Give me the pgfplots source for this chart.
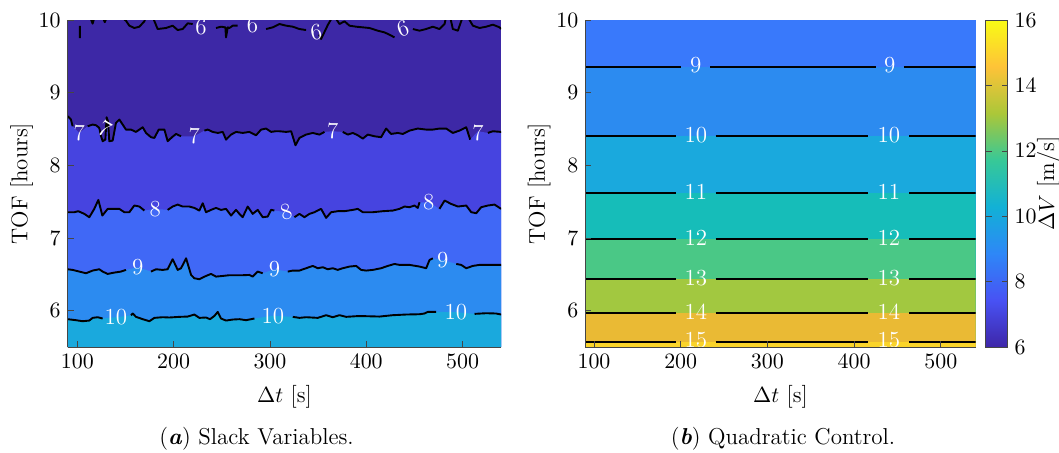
\documentclass[border=0pt]{standalone}
\usepackage{pgfplots}
\pgfplotsset{compat=1.18}
\usepackage{pgfplotstable}

\definecolor{cA}{RGB}{61,40,166}
\definecolor{cB}{RGB}{70,68,224}
\definecolor{cC}{RGB}{64,104,246}
\definecolor{cD}{RGB}{44,139,240}
\definecolor{cE}{RGB}{26,169,221}
\definecolor{cF}{RGB}{22,189,185}
\definecolor{cG}{RGB}{74,200,134}
\definecolor{cH}{RGB}{162,200,64}
\definecolor{cI}{RGB}{234,186,52}
\definecolor{cJ}{RGB}{250,212,42}
\definecolor{cR}{RGB}{57,121,251}
\definecolor{axgray}{RGB}{70,70,70}

\pgfplotstableread{
x y l
90 8.675 8.675
93.4 8.630 8.630
95.1 8.538 8.538
102.1 8.446 nan
110.7 8.538 8.538
115.9 8.561 8.561
119.4 8.552 8.552
122.8 8.515 8.515
124.6 8.400 8.400
126.3 8.332 8.332
129.1 8.354 8.354
130.4 8.662 8.662
131.8 8.607 8.607
133.2 8.332 8.332
136.7 8.341 8.341
140.1 8.584 8.584
143.6 8.630 8.630
147.1 8.561 8.561
150.5 8.492 8.492
155.7 8.492 8.492
160.9 8.460 8.460
164.4 8.492 8.492
167.9 8.524 8.524
171.3 8.446 8.446
176.5 8.387 8.387
180 8.377 8.377
184.5 8.492 8.492
190.4 8.492 8.492
193.8 8.332 8.332
198.3 8.387 8.387
202.5 8.432 8.432
207.7 8.400 8.400
221.5 8.400 nan
231.9 8.478 8.478
235.4 8.492 8.492
240.6 8.460 8.460
245.8 8.446 8.446
251 8.460 8.460
254.4 8.354 8.354
259.6 8.423 8.423
264.8 8.460 8.460
271.7 8.446 8.446
278.7 8.460 8.460
285.6 8.414 8.414
290.8 8.492 8.492
296 8.506 8.506
301.2 8.460 8.460
305.7 8.469 8.469
309.8 8.469 8.469
316.8 8.460 8.460
322 8.469 8.469
326.5 8.276 8.276
330.6 8.377 8.377
337.5 8.423 8.423
344.5 8.446 8.446
351.4 8.423 8.423
356.6 8.460 8.460
365.2 8.469 nan
375.6 8.460 8.460
380.8 8.423 8.423
386 8.446 8.446
391.2 8.414 8.414
396.4 8.368 8.368
401.6 8.423 8.423
408.5 8.400 8.400
415.4 8.387 8.387
420.6 8.506 8.506
425.8 8.432 8.432
432.8 8.446 8.446
437.9 8.432 8.432
444.9 8.478 8.478
453.5 8.506 8.506
462.2 8.492 8.492
469.1 8.492 8.492
476 8.506 8.506
483 8.506 8.506
489.9 8.446 8.446
496.8 8.478 8.478
503.8 8.524 8.524
507.9 8.354 8.354
515.9 8.469 nan
526.3 8.446 8.446
531.5 8.469 8.469
540 8.460 8.460
}\lineSeven

\pgfplotstableread{
x y l
90 7.355 7.355
96.9 7.355 7.355
101 7.369 7.369
107.3 7.332 7.332
112.4 7.286 7.286
117.6 7.401 7.401
121.8 7.524 7.524
126 7.309 7.309
131.5 7.401 7.401
138.4 7.401 7.401
143.6 7.401 7.401
148.8 7.355 7.355
154 7.355 7.355
159.2 7.447 7.447
164.4 7.433 7.433
169.6 7.378 7.378
181 7.401 nan
193.8 7.387 7.387
199 7.433 7.433
204.2 7.460 7.460
209.4 7.433 7.433
216.3 7.433 7.433
221.5 7.414 7.414
226.7 7.378 7.378
230.2 7.479 7.479
233.6 7.355 7.355
238.8 7.387 7.387
244 7.414 7.414
249.2 7.387 7.387
254.4 7.401 7.401
259.6 7.309 7.309
264.8 7.387 7.387
268.3 7.332 7.332
271.7 7.286 7.286
276.9 7.433 7.433
282.1 7.332 7.332
287.3 7.387 7.387
292.5 7.286 7.286
297.7 7.295 7.295
301.2 7.387 7.387
304.6 7.378 7.378
316.8 7.355 nan
325.4 7.286 7.286
330.6 7.332 7.332
335.8 7.286 7.286
341 7.332 7.332
346.2 7.355 7.355
353.1 7.401 7.401
358.3 7.277 7.277
363.5 7.355 7.355
370.4 7.369 7.369
377.4 7.369 7.369
386 7.387 7.387
391.2 7.401 7.401
396.4 7.355 7.355
406.8 7.355 7.355
417.2 7.369 7.369
427.6 7.378 7.378
434.5 7.401 7.401
439.7 7.433 7.433
444.9 7.424 7.424
450.1 7.447 7.447
453.5 7.414 7.414
455.3 7.492 7.492
465 7.492 nan
476 7.401 7.401
481.3 7.515 7.515
488.2 7.469 7.469
495.1 7.433 7.433
503.8 7.447 7.447
509 7.355 7.355
514.2 7.341 7.341
519.3 7.424 7.424
526.3 7.447 7.447
533.2 7.460 7.460
540 7.401 7.401
}\lineEight

\pgfplotstableread{
x y l
90 6.570 6.570
95.1 6.561 6.561
102.1 6.538 6.538
109 6.515 6.515
115.9 6.552 6.552
122.8 6.570 6.570
126.3 6.538 6.538
131.5 6.506 6.506
138.4 6.524 6.524
145.3 6.538 6.538
150.5 6.561 6.561
162.7 6.598 nan
176.5 6.538 6.538
181.7 6.570 6.570
188.6 6.561 6.561
193.8 6.570 6.570
199 6.708 6.708
204.2 6.561 6.561
207.7 6.584 6.584
212.9 6.721 6.721
218.1 6.492 6.492
221.5 6.446 6.446
226.7 6.433 6.433
233.6 6.478 6.478
238.8 6.506 6.506
244 6.469 6.469
251 6.478 6.478
257.9 6.488 6.488
264.8 6.488 6.488
271.7 6.488 6.488
278.7 6.492 6.492
282.1 6.469 6.469
287.3 6.538 6.538
292.5 6.515 6.515
304.6 6.570 nan
318.5 6.538 6.538
323.7 6.552 6.552
330.6 6.552 6.552
337.5 6.584 6.584
344.5 6.616 6.616
349.7 6.584 6.584
354.9 6.598 6.598
360 6.570 6.570
365.2 6.584 6.584
370.4 6.561 6.561
375.6 6.584 6.584
382.6 6.607 6.607
389.5 6.616 6.616
394.7 6.561 6.561
399.9 6.552 6.552
406.8 6.561 6.561
415.4 6.584 6.584
422.4 6.616 6.616
429.3 6.643 6.643
434.5 6.630 6.630
444.9 6.630 6.630
455.3 6.607 6.607
462.2 6.584 6.584
465.7 6.698 6.698
469.1 6.721 6.721
479.5 6.698 nan
493.4 6.643 6.643
498.6 6.630 6.630
503.8 6.584 6.584
510.7 6.616 6.616
517.6 6.630 6.630
528 6.630 6.630
540 6.630 6.630
}\lineNine

\pgfplotstableread{
x y l
90 5.883 5.883
98.6 5.869 5.869
105.5 5.855 5.855
112.4 5.864 5.864
115.9 5.901 5.901
121.1 5.910 5.910
126.3 5.892 5.892
140 5.91 nan
155.7 5.935 5.935
157.5 5.961 5.961
160.9 5.915 5.915
167.9 5.883 5.883
174.8 5.855 5.855
180 5.901 5.901
188.6 5.910 5.910
195.6 5.906 5.906
206 5.915 5.915
214.6 5.919 5.919
221.5 5.947 5.947
226.7 5.901 5.901
233.6 5.906 5.906
237.8 5.883 5.883
242.3 5.928 5.928
245.8 5.983 5.983
249.2 5.892 5.892
254.4 5.864 5.864
261.4 5.878 5.878
268.3 5.883 5.883
275.2 5.869 5.869
283.9 5.892 5.892
303 5.93 nan
323.7 5.915 5.915
330.6 5.901 5.901
337.5 5.910 5.910
349.7 5.901 5.901
358.3 5.938 5.938
365.2 5.910 5.910
372.2 5.938 5.938
379.1 5.915 5.915
389.5 5.924 5.924
399.9 5.924 5.924
413.7 5.919 5.919
427.6 5.938 5.938
441.4 5.947 5.947
455.3 5.951 5.951
460.5 5.961 5.961
463.9 5.983 5.983
472.6 5.983 5.983
493 5.98 nan
512.4 5.956 5.956
524.5 5.965 5.965
534.9 5.961 5.961
540 5.947 5.947
}\lineTen

\tikzset{
  cline/.style={black, line width=0.95pt, line join=round},
  clab/.style={text=white, font=\fontsize{11.5}{13}\selectfont, inner sep=0pt},
}
\pgfplotsset{
  myax/.style={
    scale only axis, height=163.5pt,
    xmin=90, xmax=540, ymin=5.5, ymax=10,
    xtick={100,200,...,500}, ytick={6,7,8,9,10},
    tick align=inside, major tick length=3pt,
    axis x line*=bottom, axis y line*=left,
    axis line style={-, draw=axgray, line width=0.4pt},
    tick style={draw=axgray, line width=0.4pt},
    axis on top,
    ticklabel style={font=\fontsize{10.5}{12}\selectfont},
    label style={font=\fontsize{11.4}{13}\selectfont},
    xlabel={$\Delta t$ [s]}, ylabel={TOF [hours]},
    xlabel style={at={(axis description cs:0.5,-0.153)}, anchor=center},
    unbounded coords=jump,
  },
}

\begin{document}
\begin{tikzpicture}
\useasboundingbox (0,0) rectangle (529.5pt,226pt);

% ---------------- (a) Slack Variables ----------------
\begin{axis}[myax, at={(33.85pt,52.5pt)}, anchor=south west, width=216.7pt,
  axis background/.style={fill=cA},
  ylabel style={at={(axis description cs:-0.106,0.5)}, anchor=center}]
  \addplot[fill=cB, draw=none] table[x=x, y=y] {\lineSeven} \closedcycle;
  \addplot[fill=cC, draw=none] table[x=x, y=y] {\lineEight} \closedcycle;
  \addplot[fill=cD, draw=none] table[x=x, y=y] {\lineNine} \closedcycle;
  \addplot[fill=cE, draw=none] table[x=x, y=y] {\lineTen} \closedcycle;
  \addplot[cline] table[x=x, y=l] {\lineSeven};
  \addplot[cline] table[x=x, y=l] {\lineEight};
  \addplot[cline] table[x=x, y=l] {\lineNine};
  \addplot[cline] table[x=x, y=l] {\lineTen};
  \addplot[cline] coordinates {
    (102.7,9.92) (102.7,9.75) (102.7,nan)
    (113,10.05) (115.9,9.95) (118,10.05) (118,nan)
    (126,10.05) (128.5,9.97) (131,10.05) (131,nan)
    (145,10.05) (150.5,9.99) (154,9.922) (159.2,9.890) (164.4,9.908) (169.6,9.982)
    (171.3,10.05) (178,10.05) (183.4,9.876) (192.1,9.890) (199,9.922) (204.2,9.862)
    (209.4,9.876) (214.6,9.954) (219.8,9.945) (228.5,nan)
    (244,9.890) (249.2,9.908) (253.7,9.899) (254.4,9.761) (256.2,9.899) (257.9,9.890)
    (261.4,9.922) (266.5,9.922) (282,nan)
    (296,9.876) (302.9,9.899) (309.8,9.945) (316.8,9.922) (323.7,9.908) (330.6,9.876)
    (337.5,9.862) (348,nan)
    (351,9.80) (353.1,9.739) (360,9.93) (365.2,10.05) (367,10.05) (372.2,9.945)
    (377.4,9.982) (382.6,9.922) (389.5,9.908) (396.4,9.899) (403.3,9.890) (412,9.853)
    (418.9,9.830) (424.1,9.798) (429.3,9.761) (438,nan)
    (448.4,9.876) (455.3,9.853) (462.2,9.876) (469.1,9.908) (476,9.876) (481.3,9.945)
    (483,10.05) (487,10.05) (489.9,9.876) (495.1,9.853) (500.3,10.05) (505,10.05)
    (510.7,9.922) (517.6,9.890) (524.5,9.908) (531.5,9.936) (538.4,9.899) (540,9.876)
  };
  % labels
  \node[clab] at (axis cs:228.5,9.908) {6};
  \node[clab] at (axis cs:282,9.936) {6};
  \node[clab, rotate=10] at (axis cs:347.9,9.83) {6};
  \node[clab, rotate=20] at (axis cs:438,9.876) {6};
  \node[clab] at (axis cs:102.1,8.446) {7};
  \node[clab, rotate=-30] at (axis cs:128.5,8.50) {7};
  \node[clab] at (axis cs:221.5,8.40) {7};
  \node[clab] at (axis cs:365.2,8.469) {7};
  \node[clab] at (axis cs:515.9,8.45) {7};
  \node[clab] at (axis cs:181,7.401) {8};
  \node[clab, rotate=15] at (axis cs:316.8,7.355) {8};
  \node[clab] at (axis cs:465,7.492) {8};
  \node[clab] at (axis cs:162.7,6.598) {9};
  \node[clab] at (axis cs:304.6,6.570) {9};
  \node[clab] at (axis cs:479.5,6.698) {9};
  \node[clab] at (axis cs:140,5.905) {10};
  \node[clab] at (axis cs:303,5.925) {10};
  \node[clab] at (axis cs:493,5.975) {10};
\end{axis}

% ---------------- (b) Quadratic Control ----------------
\begin{axis}[myax, at={(292.65pt,52.5pt)}, anchor=south west, width=195.1pt,
  axis background/.style={fill=cR},
  ylabel style={at={(axis description cs:-0.118,0.5)}, anchor=center},
  colorbar,
  colormap={parula}{rgb255=(62,38,168) rgb255=(72,82,244) rgb255=(46,135,247)
    rgb255=(18,177,214) rgb255=(55,200,151) rgb255=(171,199,57) rgb255=(254,195,56)
    rgb255=(249,251,21)},
  point meta min=6, point meta max=16,
  colorbar style={
    width=11pt, at={(parent axis.north east)}, anchor=north west, xshift=-3.5pt,
    ytick={6,8,...,16}, tick align=inside, major tick length=3pt,
    axis line style={draw=axgray}, tick style={draw=axgray},
    yticklabel style={font=\fontsize{10.5}{12}\selectfont},
    ylabel={$\Delta V$ [m/s]},
    ylabel style={at={(axis description cs:2.86,0.5)}, anchor=center,
      font=\fontsize{11.4}{13}\selectfont},
  }]
  \addplot[fill=cD, draw=none] coordinates {(90,9.358) (540,9.358)} \closedcycle;
  \addplot[fill=cE, draw=none] coordinates {(90,8.404) (540,8.404)} \closedcycle;
  \addplot[fill=cF, draw=none] coordinates {(90,7.625) (540,7.625)} \closedcycle;
  \addplot[fill=cG, draw=none] coordinates {(90,6.984) (540,6.984)} \closedcycle;
  \addplot[fill=cH, draw=none] coordinates {(90,6.437) (540,6.437)} \closedcycle;
  \addplot[fill=cI, draw=none] coordinates {(90,5.974) (540,5.974)} \closedcycle;
  \addplot[fill=cJ, draw=none] coordinates {(90,5.575) (540,5.575)} \closedcycle;
  \addplot[cline] coordinates {(90,9.358) (200.5,9.358) (217,nan) (234.3,9.358) (425.5,9.358) (441,nan) (457.4,9.358) (540,9.358)};
  \addplot[cline] coordinates {(90,8.404) (194.4,8.404) (217,nan) (240.3,8.404) (415.5,8.404) (441,nan) (463.3,8.404) (540,8.404)};
  \addplot[cline] coordinates {(90,7.625) (194.4,7.625) (217,nan) (240.3,7.625) (415.5,7.625) (441,nan) (463.3,7.625) (540,7.625)};
  \addplot[cline] coordinates {(90,6.984) (194.4,6.984) (217,nan) (240.3,6.984) (415.5,6.984) (441,nan) (463.3,6.984) (540,6.984)};
  \addplot[cline] coordinates {(90,6.437) (194.4,6.437) (217,nan) (240.3,6.437) (415.5,6.437) (441,nan) (463.3,6.437) (540,6.437)};
  \addplot[cline] coordinates {(90,5.974) (194.4,5.974) (217,nan) (240.3,5.974) (415.5,5.974) (441,nan) (463.3,5.974) (540,5.974)};
  \addplot[cline] coordinates {(90,5.575) (194.4,5.575) (217,nan) (240.3,5.575) (415.5,5.575) (441,nan) (463.3,5.575) (540,5.575)};
  \node[clab] at (axis cs:217.5,9.38) {9};
  \node[clab] at (axis cs:441,9.38) {9};
  \node[clab] at (axis cs:217.5,8.42) {10};
  \node[clab] at (axis cs:440,8.42) {10};
  \node[clab] at (axis cs:217.5,7.64) {11};
  \node[clab] at (axis cs:440,7.64) {11};
  \node[clab] at (axis cs:217.5,7.00) {12};
  \node[clab] at (axis cs:440,7.00) {12};
  \node[clab] at (axis cs:217.5,6.45) {13};
  \node[clab] at (axis cs:440,6.45) {13};
  \node[clab] at (axis cs:217.5,5.99) {14};
  \node[clab] at (axis cs:440,5.99) {14};
  \node[clab] at (axis cs:217.5,5.59) {15};
  \node[clab] at (axis cs:440,5.59) {15};
\end{axis}

\node[font=\fontsize{11.5}{14}\selectfont] at (128.25pt,6.5pt) {(\textbf{\textit{a}}) Slack Variables.};
\node[font=\fontsize{11.5}{14}\selectfont] at (391.5pt,6.5pt) {(\textbf{\textit{b}}) Quadratic Control.};
\end{tikzpicture}
\end{document}
